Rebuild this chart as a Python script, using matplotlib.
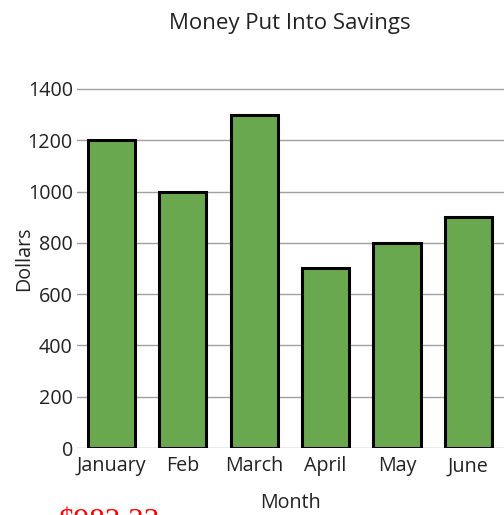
import matplotlib
matplotlib.use("Agg")
import matplotlib.pyplot as plt
import numpy as np

months = ["January", "Feb", "March", "April", "May", "June"]
savings = [1200, 1000, 1300, 700, 800, 900]
y_ticks = [0, 200, 400, 600, 800, 1000, 1200, 1400]

plt.rcParams['font.family'] = ['Open Sans', 'DejaVu Sans']

W, H = 504, 515
fig = plt.figure(figsize=(W / 100, H / 100), dpi=100)
ax_left, ax_bottom, ax_top = 77, 448, 70
ax = fig.add_axes([ax_left / W, 1 - ax_bottom / H, 1 - ax_left / W, (ax_bottom - ax_top) / H])

text_color = "#222222"
grid_color = "#a0a0a0"

x = np.arange(len(months))
ax.bar(x, savings, width=0.66, color="#6aa84f", edgecolor="black", linewidth=2.2, zorder=3)

ax.set_xlim(-0.485, len(months) - 0.5)
ax.set_ylim(0, 1474)
ax.set_yticks(y_ticks)
ax.set_xticks(x)
ax.set_xticklabels(months)
ax.tick_params(axis='y', labelsize=14.2, length=0, pad=3, labelcolor=text_color)
ax.tick_params(axis='x', labelsize=14.2, length=0, pad=6, labelcolor=text_color)
ax.grid(axis='y', color=grid_color, linewidth=1, zorder=0)
for s in ax.spines.values():
    s.set_visible(False)

ax.set_ylabel("Dollars", fontsize=14.2, color=text_color, va="center")
ax.yaxis.set_label_coords((24 - ax_left) / (W - ax_left), 0.5)
ax.set_xlabel("Month", fontsize=14.2, color=text_color, va="center")
ax.xaxis.set_label_coords(0.5, (ax_bottom - 503) / (ax_bottom - ax_top))

fig.text(290 / W, 1 - 28.5 / H, "Money Put Into Savings", ha="center", va="baseline",
         fontsize=16, color=text_color)

# average monthly savings, shown in red below the chart
mean_val = np.mean(savings)
fig.text(59 / W, 1 - 530 / H, f"${mean_val:.2f}", ha="left", va="baseline",
         fontsize=22.5, color="red", family="Liberation Serif")

fig.savefig("out.png", dpi=100)
